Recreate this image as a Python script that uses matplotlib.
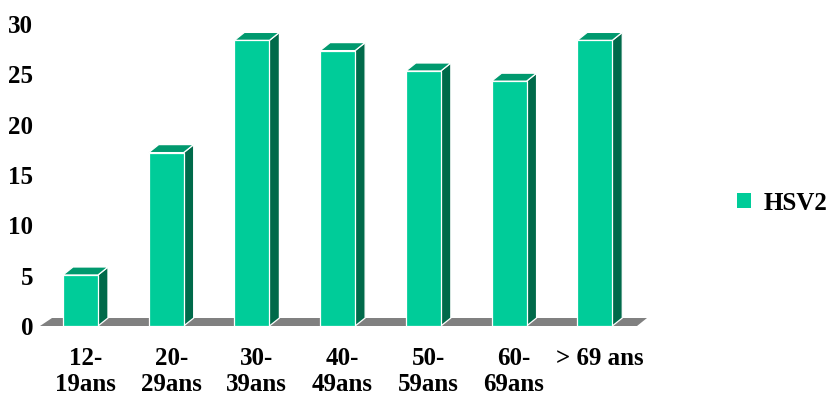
import numpy as np
import matplotlib
matplotlib.use("Agg")
import matplotlib.pyplot as plt
from matplotlib.patches import Polygon, Patch

# HSV2 prevalence by age group
age_groups = ["12-\n19ans", "20-\n29ans", "30-\n39ans", "40-\n49ans",
              "50-\n59ans", "60-\n69ans", "> 69 ans"]
hsv2 = [5, 17, 28, 27, 25, 24, 28]
y_ticks = [0, 5, 10, 15, 20, 25, 30]

front_col = "#00cc99"
side_col = "#006a4a"
top_col = "#00996e"
floor_col = "#808080"

plt.rcParams["font.family"] = ["Liberation Serif", "DejaVu Serif"]
plt.rcParams["font.weight"] = "bold"

W, H = 826, 394
fig = plt.figure(figsize=(W / 100, H / 100), dpi=100)
# bar axes: x from 40px to 640px, y=0 at 326px, y=30 at 20px
ax = fig.add_axes([40 / W, (H - 326) / H, 600 / W, 306 / H])
ax.set_xlim(-0.5, 6.5)
ax.set_ylim(0, 30)

# separate axes for the value labels (they sit on the back wall)
lab = fig.add_axes([40 / W, (H - 326) / H, 600 / W, 302 / H], sharex=None)
lab.set_ylim(0, 30)
lab.patch.set_visible(False)
lab.set_xticks([])

# depth offset of the 3D look, in data units
px_x = 7 / 600
px_y = 30 / 306
dx = 10 * px_x
dy = 8 * px_y

# floor
ax.add_patch(Polygon([(-0.5, 0), (6.5 - 3 * px_x, 0), (6.5 - 3 * px_x + dx, dy),
                      (-0.5 + dx + 2 * px_x, dy)],
                     closed=True, facecolor=floor_col, edgecolor="none",
                     zorder=1, clip_on=False))

bar_w = 35 * px_x
x = np.arange(len(hsv2))
left = x - 0.232
ax.bar(left, hsv2, width=bar_w, align="edge", color=front_col,
       edgecolor="white", linewidth=0.9, zorder=3, clip_on=False)

for xl, v in zip(left, hsv2):
    xr = xl + bar_w
    # right side face
    ax.add_patch(Polygon([(xr, 0), (xr + dx, dy), (xr + dx, v + dy), (xr, v)],
                         closed=True, facecolor=side_col, edgecolor="white",
                         linewidth=0.9, zorder=2, clip_on=False))
    # top face
    ax.add_patch(Polygon([(xl, v), (xr, v), (xr + dx, v + dy), (xl + dx, v + dy)],
                         closed=True, facecolor=top_col, edgecolor="white",
                         linewidth=0.9, zorder=2, clip_on=False))

for a in (ax, lab):
    for s in a.spines.values():
        s.set_visible(False)

ax.set_yticks([])
lab.set_yticks(y_ticks)
lab.set_yticklabels([str(t) for t in y_ticks], fontsize=18, fontweight="bold")
lab.tick_params(axis="y", length=0, pad=5)

ax.set_xticks(x + 0.03)
ax.set_xticklabels(age_groups, fontsize=18, fontweight="bold", linespacing=1.15)
ax.tick_params(axis="x", length=0, pad=15)

fig.legend(handles=[Patch(facecolor=front_col, edgecolor="none")], labels=["HSV2"],
           loc="center left", bbox_to_anchor=(737 / W, 1 - 203 / H),
           frameon=False, handlelength=0.55, handleheight=0.55,
           handletextpad=0.5, borderpad=0, borderaxespad=0,
           prop={"weight": "bold", "size": 18})

fig.savefig("out.png", dpi=100)
